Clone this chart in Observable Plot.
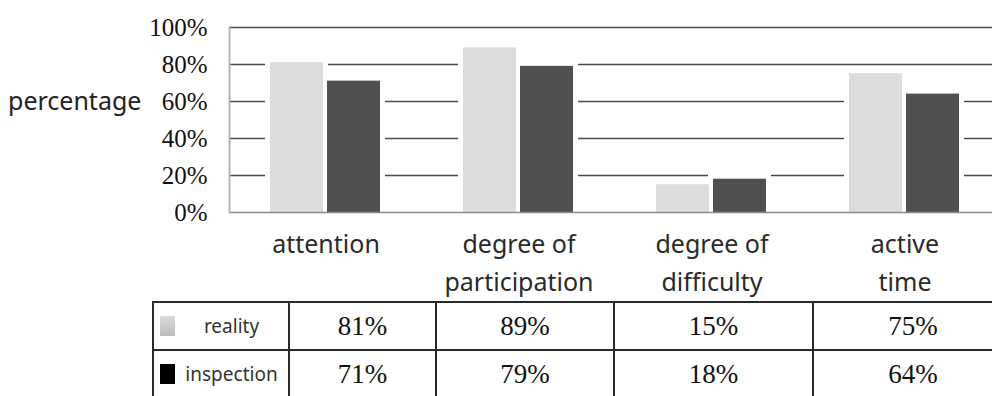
<!DOCTYPE html>
<html>
<head>
<meta charset="utf-8">
<script src="https://cdn.jsdelivr.net/npm/d3@7"></script>
<script src="https://cdn.jsdelivr.net/npm/@observablehq/plot@0.6"></script>
<style>
  html, body { margin: 0; padding: 0; background: #fff; }
  #wrap { position: relative; width: 992px; height: 396px; overflow: hidden; }
  #chart { position: absolute; left: 0; top: 0; }
  #ylab { position: absolute; left: 8px; top: 83px; font-family: "Noto Sans", sans-serif; font-size: 25px; color: #222; }
  #tbl { position: absolute; left: 152px; top: 301px; border-collapse: collapse; table-layout: fixed; }
  #tbl td { border: 2px solid #2a2a2a; height: 46px; padding: 0; text-align: center; }
  td.val { font-family: "Liberation Serif", "Times New Roman", serif; font-size: 27px; color: #111; }
  td.key { font-family: "Noto Sans", sans-serif; font-size: 19px; color: #333; }
  .keybox { display: flex; align-items: center; padding-left: 6px; }
  .sw { display: inline-block; width: 15px; height: 20px; }
  .keytext { flex: 1; text-align: center; }
</style>
</head>
<body>
<div id="wrap">
  <div id="chart"></div>
  <div id="ylab">percentage</div>
  <table id="tbl"></table>
</div>
<script>
// categories and the two measured series (percent)
const categories = ["attention", "degree of\nparticipation", "degree of\ndifficulty", "active\ntime"];
const seriesNames = ["reality", "inspection"];
const reality = [81, 89, 15, 75];
const inspection = [71, 79, 18, 64];
const yTicks = [0, 20, 40, 60, 80, 100];
const barColors = ["#dcdcdc", "#505050"];
const keyColors = ["linear-gradient(#dadada,#bcbcbc)", "#000"];

const rows = [reality, inspection];
const data = categories.flatMap((c, i) =>
  seriesNames.map((s, j) => ({category: c, series: s, value: rows[j][i]}))
);

const chart = Plot.plot({
  width: 1001,
  height: 300,
  marginLeft: 229,
  marginRight: 0,
  marginTop: 27,
  marginBottom: 88,
  style: {maxWidth: "none", overflow: "visible"},
  fx: {domain: categories, padding: 0},
  x: {domain: seriesNames, paddingInner: 0.07, paddingOuter: 0.7, axis: null},
  y: {domain: [0, 100]},
  color: {domain: seriesNames, range: barColors},
  marks: [
    // horizontal gridlines
    Plot.ruleY(yTicks.filter(d => d > 0), {stroke: "#4a4a4a", strokeWidth: 1.5}),
    // white halo that breaks the gridlines around each bar
    Plot.barY(data, {fx: "category", x: "series", y: "value", fill: "#fff", stroke: "#fff", strokeWidth: 10}),
    Plot.barY(data, {fx: "category", x: "series", y: "value", fill: "series"}),
    // baseline and left edge of the plot area
    Plot.ruleY([0], {stroke: "#8a8a8a", strokeWidth: 1.5}),
    Plot.frame({anchor: "left", facetAnchor: "left", stroke: "#b4b4b4", strokeWidth: 2}),
    Plot.axisY({
      ticks: yTicks, tickSize: 0, tickPadding: 22, tickFormat: d => d + "%",
      fontSize: 25, fontFamily: "Liberation Serif", color: "#111", label: null
    }),
    Plot.axisFx({
      anchor: "bottom", tickSize: 0, tickPadding: 14, fontSize: 25,
      fontFamily: "Noto Sans", lineHeight: 1.5, color: "#2a2a2a", label: null
    })
  ]
});
document.getElementById("chart").appendChild(chart);

// data table under the chart, built from the same series
const colWidths = [136, 147, 178, 199, 200];
const tbl = d3.select("#tbl").style("width", d3.sum(colWidths) + "px");
const cg = tbl.append("colgroup");
colWidths.forEach(w => cg.append("col").style("width", w + "px"));
rows.forEach((vals, r) => {
  const tr = tbl.append("tr");
  const box = tr.append("td").attr("class", "key").append("div").attr("class", "keybox");
  box.append("span").attr("class", "sw").style("background", keyColors[r]);
  box.append("span").attr("class", "keytext").text(seriesNames[r]);
  vals.forEach(v => tr.append("td").attr("class", "val").text(v + "%"));
});
</script>
</body>
</html>
